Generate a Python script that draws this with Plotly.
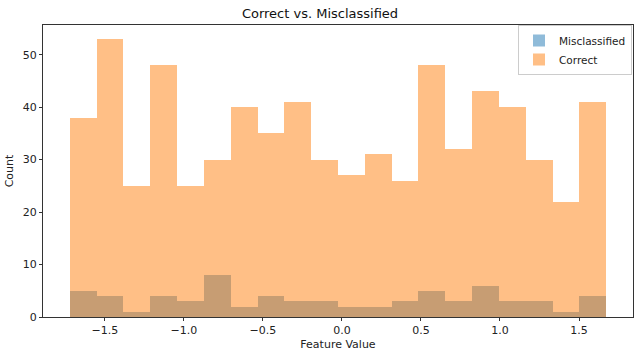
import numpy as np
import plotly.graph_objects as go

# Histogram bins (feature value)
bin_start = -1.722
bin_end = 1.672
n_bins = 20

correct_counts = [38, 53, 25, 48, 25, 30, 40, 35, 41, 30, 27, 31, 26, 48, 32, 43, 40, 30, 22, 41]
misclassified_counts = [5, 4, 1, 4, 3, 8, 2, 4, 3, 3, 2, 2, 3, 5, 3, 6, 3, 3, 1, 4]

edges = np.linspace(bin_start, bin_end, n_bins + 1)
centers = (edges[:-1] + edges[1:]) / 2
width = edges[1] - edges[0]

FONT = "DejaVu Sans"

fig = go.Figure()
fig.add_trace(go.Bar(
    x=centers, y=misclassified_counts, width=width, name="Misclassified",
    marker=dict(color="rgba(31,119,180,0.5)", line=dict(width=0)),
))
fig.add_trace(go.Bar(
    x=centers, y=correct_counts, width=width, name="Correct",
    marker=dict(color="rgba(255,127,14,0.5)", line=dict(width=0)),
))

pad = 0.05 * (bin_end - bin_start)
ymax = max(correct_counts) * 1.05

fig.update_layout(
    width=640, height=358,
    barmode="overlay",
    bargap=0,
    plot_bgcolor="white",
    paper_bgcolor="white",
    margin=dict(l=43, r=7, t=25, b=41, autoexpand=False),
    font=dict(family=FONT, size=11, color="#222"),
    title=dict(text="Correct vs. Misclassified", x=0.5, xanchor="center",
               y=1 - 13 / 358, yanchor="middle", font=dict(size=13, color="#111")),
    xaxis=dict(
        range=[bin_start - pad, bin_end + pad],
        tickvals=[-1.5, -1.0, -0.5, 0.0, 0.5, 1.0, 1.5],
        ticktext=["\u22121.5", "\u22121.0", "\u22120.5", "0.0", "0.5", "1.0", "1.5"],
        showline=True, linecolor="#333", linewidth=1, mirror=True,
        ticks="outside", ticklen=3, tickcolor="#333",
        showgrid=False, zeroline=False, automargin=False,
        title=dict(text="Feature Value", standoff=4, font=dict(size=11)),
    ),
    yaxis=dict(
        range=[0, ymax],
        tickvals=[0, 10, 20, 30, 40, 50],
        showline=True, linecolor="#333", linewidth=1, mirror=True,
        ticks="outside", ticklen=3, tickcolor="#333",
        showgrid=False, zeroline=False, automargin=False,
        title=dict(text="Count", standoff=6, font=dict(size=11)),
    ),
    legend=dict(
        x=(518 - 43) / 590, y=1.0, xanchor="left", yanchor="top",
        bgcolor="rgba(255,255,255,0.8)", bordercolor="#ccc", borderwidth=1,
        font=dict(size=10.5),
        traceorder="normal",
        itemwidth=30,
        tracegroupgap=0,
    ),
)

fig.write_html("out.html", config={"displayModeBar": False},
               post_script="document.body.style.margin='0';")
